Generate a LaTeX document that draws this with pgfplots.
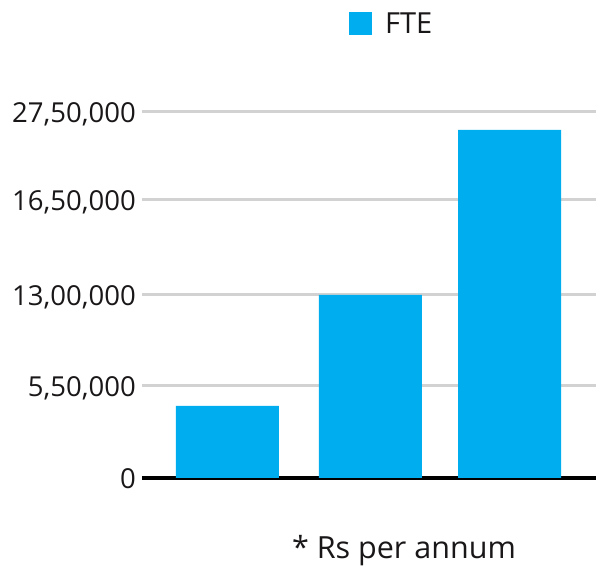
\documentclass[border=0pt]{standalone}
\usepackage{fontspec}
\setmainfont{Open Sans}
\usepackage{pgfplots}
\pgfplotsset{compat=1.18}
\definecolor{barblue}{HTML}{00AEEF}
\definecolor{gridgray}{HTML}{D2D2D2}
\definecolor{txt}{HTML}{1A1718}
\begin{document}
\begin{tikzpicture}[x=1pt,y=1pt]
\path (0,0) rectangle (606,572);
% y values are positions on the chart's uneven scale (ticks at 0, 5.5L, 13L, 16.5L, 27.5L)
\begin{axis}[
    at={(142pt,94pt)}, anchor=south west,
    scale only axis,
    width=454pt, height=366pt,
    xmin=-0.606, xmax=2.613,
    ymin=0, ymax=366,
    ybar, bar width=103pt,
    axis x line*=bottom, axis y line*=left,
    x axis line style={line width=4pt, black, -},
    y axis line style={draw=none},
    xtick=\empty,
    ytick={0,92,183,278,366},
    yticklabels={0,{5,50,000},{13,00,000},{16,50,000},{27,50,000}},
    major tick length=0pt,
    ymajorgrids, grid style={gridgray, line width=3pt},
    yticklabel style={font=\fontsize{27.5}{30}\selectfont, text=txt, inner sep=0pt,
        text depth=0pt, xshift=-6pt, yshift=-1pt},
    legend style={draw=none, at={(axis description cs:0.456,1.2405)}, anchor=west,
        font=\fontsize{29}{30}\selectfont, text=txt, inner sep=0pt,
        /tikz/every even column/.append style={column sep=0pt}},
    legend image code/.code={\fill[barblue] (0pt,-11.5pt) rectangle (23pt,11.5pt);},
    clip=false,
]
\addplot[fill=barblue, draw=none] coordinates {(0,72) (1.014,183) (2,348)};
\addlegendentry{\hspace{11pt}FTE}
\end{axis}
\node[anchor=base, font=\fontsize{30.5}{32}\selectfont, text=txt] at (404,13) {* Rs per annum};
\end{tikzpicture}
\end{document}
